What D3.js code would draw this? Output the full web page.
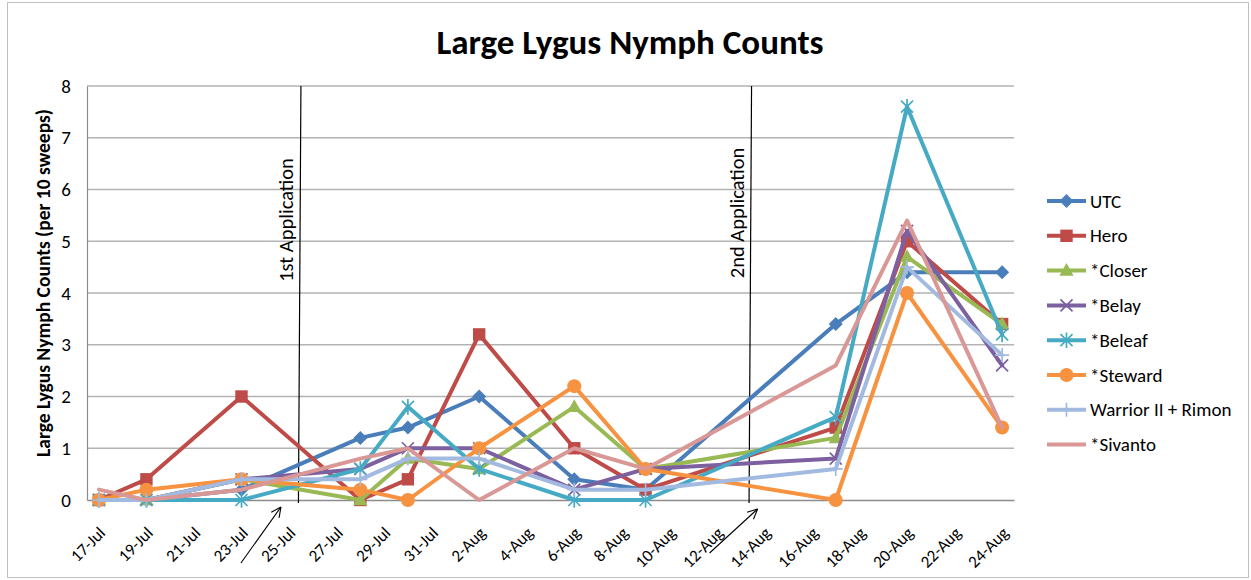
<!DOCTYPE html>
<html>
<head>
<meta charset="utf-8">
<script src="https://cdn.jsdelivr.net/npm/d3@7"></script>
<style>
  html, body { margin: 0; padding: 0; background: #fff; }
  svg { display: block; }
  text { font-family: Carlito, Calibri, Lato, "Open Sans", sans-serif; fill: #000; }
</style>
</head>
<body>
<svg id="chart" width="1251" height="580"></svg>
<script>
// ---------- data ----------
const sampleDates = ["17-Jul","19-Jul","23-Jul","28-Jul","30-Jul","2-Aug","6-Aug","9-Aug","17-Aug","20-Aug","24-Aug"];
const utc      = [0,   0,   0.2, 1.2, 1.4, 2.0, 0.4, 0.2, 3.4, 4.4, 4.4];
const hero     = [0,   0.4, 2.0, 0,   0.4, 3.2, 1.0, 0.2, 1.4, 5.0, 3.4];
const closer   = [0,   0,   0.4, 0,   0.8, 0.6, 1.8, 0.6, 1.2, 4.7, 3.4];
const belay    = [0,   0,   0.4, 0.6, 1.0, 1.0, 0.2, 0.6, 0.8, 5.2, 2.6];
const beleaf   = [0,   0,   0,   0.6, 1.8, 0.6, 0,   0,   1.6, 7.6, 3.2];
const steward  = [0,   0.2, 0.4, 0.2, 0,   1.0, 2.2, 0.6, 0,   4.0, 1.4];
const warrior  = [0,   0,   0.4, 0.4, 0.8, 0.8, 0.2, 0.2, 0.6, 4.5, 2.8];
const sivanto  = [0.2, 0,   0.2, 0.8, 1.0, 0,   1.0, 0.6, 2.6, 5.4, 1.4];

const seriesNames = ["UTC","Hero","*Closer","*Belay","*Beleaf","*Steward","Warrior II + Rimon","*Sivanto"];
const seriesValues = [utc, hero, closer, belay, beleaf, steward, warrior, sivanto];
const seriesColors = ["#4A7EBB","#BE4B48","#98B954","#7D60A0","#46AAC5","#F69240","#A2BAE0","#D99795"];
const seriesMarkers = ["diamond","square","triangle","x","star","circle","plus","none"];

const xTickLabels = ["17-Jul","19-Jul","21-Jul","23-Jul","25-Jul","27-Jul","29-Jul","31-Jul","2-Aug","4-Aug","6-Aug","8-Aug","10-Aug","12-Aug","14-Aug","16-Aug","18-Aug","20-Aug","22-Aug","24-Aug"];
const yTickValues = [0,1,2,3,4,5,6,7,8];

const applications = [
  { label: "1st Application", when: "25-Jul 11:00" },
  { label: "2nd Application", when: "13-Aug 10:00" }
];

const title = "Large Lygus Nymph Counts";
const yTitle = "Large Lygus Nymph Counts (per 10 sweeps)";

// ---------- helpers ----------
const YEAR = 2013;
const parseDay = s => d3.timeParse("%e-%b-%Y")(s + "-" + YEAR);
const parseWhen = s => d3.timeParse("%e-%b-%Y %H:%M")(s.replace(" ", "-" + YEAR + " "));

const svg = d3.select("#chart");
const W = 1251, H = 580;
const plot = { left: 87, right: 1014, top: 86, bottom: 500 };

// chart border
svg.append("rect").attr("x", 7.5).attr("y", 2.5).attr("width", W - 10).attr("height", H - 5)
  .attr("fill", "#fff").attr("stroke", "#BFBFBF").attr("stroke-width", 1);

const firstDay = parseDay(sampleDates[0]);
const lastDay = parseDay(sampleDates[sampleDates.length - 1]);
const x = d3.scaleTime()
  .domain([d3.timeHour.offset(firstDay, -12), d3.timeHour.offset(lastDay, 12)])
  .range([plot.left, plot.right]);
const y = d3.scaleLinear().domain([0, 8]).range([plot.bottom, plot.top]);

// gridlines
svg.append("g").selectAll("line").data(yTickValues.filter(v => v > 0)).join("line")
  .attr("x1", plot.left).attr("x2", plot.right)
  .attr("y1", d => y(d)).attr("y2", d => y(d))
  .attr("stroke", "#B3B3B3").attr("stroke-width", 1.5);

// y axis
const yAxis = d3.axisLeft(y).tickValues(yTickValues).tickSize(0).tickPadding(16).tickFormat(d3.format("d"));
const gy = svg.append("g").attr("transform", `translate(${plot.left},0)`).call(yAxis);
gy.select(".domain").attr("stroke", "#8C8C8C").attr("stroke-width", 1.2);
gy.selectAll("text").style("font-size", "19px").attr("fill", "#000");

// x axis
const tickDates = xTickLabels.map(parseDay);
const xAxis = d3.axisBottom(x).tickValues(tickDates).tickSize(0).tickFormat(d3.timeFormat("%-d-%b"));
const gx = svg.append("g").attr("transform", `translate(0,${plot.bottom})`).call(xAxis);
gx.select(".domain").attr("stroke", "#8C8C8C").attr("stroke-width", 1.5);
gx.selectAll("text")
  .style("font-size", "17px").attr("fill", "#000")
  .attr("text-anchor", "end")
  .attr("dy", null).attr("y", null)
  .attr("transform", "translate(7,34) rotate(-45)");

// application lines + labels + arrows
applications.forEach((a, i) => {
  const ax = x(parseWhen(a.when));
  svg.append("line").attr("x1", ax + 1).attr("x2", ax - 1.5)
    .attr("y1", plot.top).attr("y2", plot.bottom + 3)
    .attr("stroke", "#000").attr("stroke-width", 1.2);
  const cy = i === 0 ? 220 : 213;
  svg.append("text").attr("transform", `translate(${ax - 7},${cy}) rotate(-90)`)
    .attr("text-anchor", "middle").style("font-size", "20.5px").text(a.label);
  // arrow
  const tip = i === 0 ? [ax - 19, plot.bottom + 7] : [ax + 7, plot.bottom + 9];
  const tail = i === 0 ? [ax - 59, plot.bottom + 63] : [ax - 41, plot.bottom + 53];
  svg.append("line").attr("x1", tail[0]).attr("y1", tail[1]).attr("x2", tip[0]).attr("y2", tip[1])
    .attr("stroke", "#000").attr("stroke-width", 1.1);
  const ang = Math.atan2(tip[1] - tail[1], tip[0] - tail[0]);
  const hl = 11, spread = 0.45;
  [ang + Math.PI - spread, ang + Math.PI + spread].forEach(t => {
    svg.append("line").attr("x1", tip[0]).attr("y1", tip[1])
      .attr("x2", tip[0] + hl * Math.cos(t)).attr("y2", tip[1] + hl * Math.sin(t))
      .attr("stroke", "#000").attr("stroke-width", 1.1);
  });
});

// marker drawing
function drawMarker(g, type, color, px, py) {
  if (type === "diamond") {
    const r = 7;
    g.append("path").attr("d", `M${px},${py - r}L${px + r},${py}L${px},${py + r}L${px - r},${py}Z`).attr("fill", color);
  } else if (type === "square") {
    const r = 6.2;
    g.append("rect").attr("x", px - r).attr("y", py - r).attr("width", 2 * r).attr("height", 2 * r).attr("fill", color);
  } else if (type === "triangle") {
    const r = 7.5;
    g.append("path").attr("d", `M${px},${py - r}L${px + r * 0.95},${py + r * 0.7}L${px - r * 0.95},${py + r * 0.7}Z`).attr("fill", color);
  } else if (type === "circle") {
    g.append("circle").attr("cx", px).attr("cy", py).attr("r", 7).attr("fill", color);
  } else if (type === "x") {
    const r = 6;
    g.append("path").attr("d", `M${px - r},${py - r}L${px + r},${py + r}M${px - r},${py + r}L${px + r},${py - r}`)
      .attr("stroke", color).attr("stroke-width", 1.7).attr("fill", "none");
  } else if (type === "star") {
    const r = 6;
    g.append("path").attr("d", `M${px - r},${py - r}L${px + r},${py + r}M${px - r},${py + r}L${px + r},${py - r}M${px},${py - r * 1.3}L${px},${py + r * 1.3}`)
      .attr("stroke", color).attr("stroke-width", 1.7).attr("fill", "none");
  } else if (type === "plus") {
    const r = 7;
    g.append("path").attr("d", `M${px - r},${py}L${px + r},${py}M${px},${py - r}L${px},${py + r}`)
      .attr("stroke", color).attr("stroke-width", 1.7).attr("fill", "none");
  }
}

// series
const line = d3.line().x(d => x(d.date)).y(d => y(d.v));
const sDates = sampleDates.map(parseDay);
seriesNames.forEach((name, i) => {
  const pts = seriesValues[i].map((v, j) => ({ date: sDates[j], v }));
  const g = svg.append("g");
  g.append("path").datum(pts).attr("d", line).attr("fill", "none")
    .attr("stroke", seriesColors[i]).attr("stroke-width", 4)
    .attr("stroke-linejoin", "round").attr("stroke-linecap", "round");
  pts.forEach(p => drawMarker(g, seriesMarkers[i], seriesColors[i], x(p.date), y(p.v)));
});

// title
svg.append("text").attr("x", 630).attr("y", 54).attr("text-anchor", "middle")
  .style("font-size", "35px").style("font-weight", "bold").text(title);

// y title
svg.append("text").attr("transform", `translate(50,283) rotate(-90)`).attr("text-anchor", "middle")
  .style("font-size", "19.5px").style("font-weight", "bold").text(yTitle);

// legend
const lg = svg.append("g");
seriesNames.forEach((name, i) => {
  const ly = 201 + i * 34.8;
  lg.append("line").attr("x1", 1047).attr("x2", 1086).attr("y1", ly).attr("y2", ly)
    .attr("stroke", seriesColors[i]).attr("stroke-width", 4);
  drawMarker(lg, seriesMarkers[i], seriesColors[i], 1066.5, ly);
  lg.append("text").attr("x", 1090).attr("y", ly).attr("dy", "0.35em")
    .style("font-size", "19px").text(name);
});
</script>
</body>
</html>
